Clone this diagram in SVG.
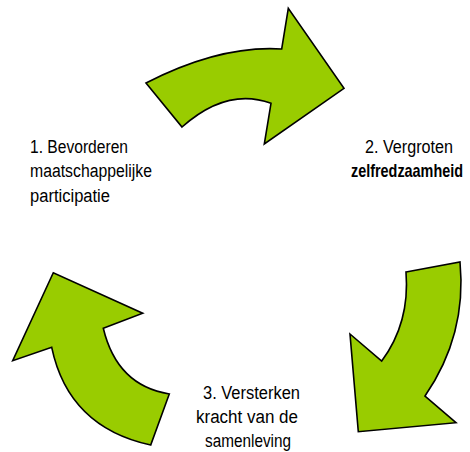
<svg xmlns="http://www.w3.org/2000/svg" width="470" height="452" viewBox="0 0 470 452">
<style>
.arrow{fill:#99CC00;stroke:#000;stroke-width:1.6;stroke-linejoin:miter}
.lbl{font-family:"Liberation Sans Narrow","Liberation Sans",Arial,sans-serif;font-size:18px;fill:#000}
.b{font-weight:bold}
</style>
<rect width="470" height="452" fill="#fff"/>
<g id="connectors">
<path id="arrow-top" class="arrow" d="M146,83 Q220,45 281.7,49 L288.3,8.3 L344,88.3 L264.3,144 L271,103.3 Q227,87 182,127 Z"/>
<path id="arrow-right" class="arrow" d="M406,272 L460,262 Q467,335 425,396 L456,422.7 L358.3,431.7 L350,334 L381.7,361 Q410,323 406,272 Z"/>
<path id="arrow-left" class="arrow" d="M169.3,394 Q117,385.6 103.3,328.3 L142.7,313.3 L53.3,272.7 L12.7,360.7 L51.7,347.3 Q68.5,427 150.7,445 Z"/>
</g>
<g id="node1">
<text class="lbl" x="30" y="152.5" textLength="98" lengthAdjust="spacingAndGlyphs">1. Bevorderen</text>
<text class="lbl" x="30" y="177" textLength="122" lengthAdjust="spacingAndGlyphs">maatschappelijke</text>
<text class="lbl" x="30" y="201.5" textLength="80" lengthAdjust="spacingAndGlyphs">participatie</text>
</g>
<g id="node2">
<text class="lbl" x="365" y="152.5" textLength="88" lengthAdjust="spacingAndGlyphs">2. Vergroten</text>
<text class="lbl b" transform="translate(351,177) scale(0.8,1)" x="0" y="0" textLength="140" lengthAdjust="spacingAndGlyphs">zelfredzaamheid</text>
</g>
<g id="node3">
<text class="lbl" x="203" y="399" textLength="97" lengthAdjust="spacingAndGlyphs">3. Versterken</text>
<text class="lbl" x="196" y="423" textLength="102" lengthAdjust="spacingAndGlyphs">kracht van de</text>
<text class="lbl" x="205" y="447" textLength="86" lengthAdjust="spacingAndGlyphs">samenleving</text>
</g>
</svg>
